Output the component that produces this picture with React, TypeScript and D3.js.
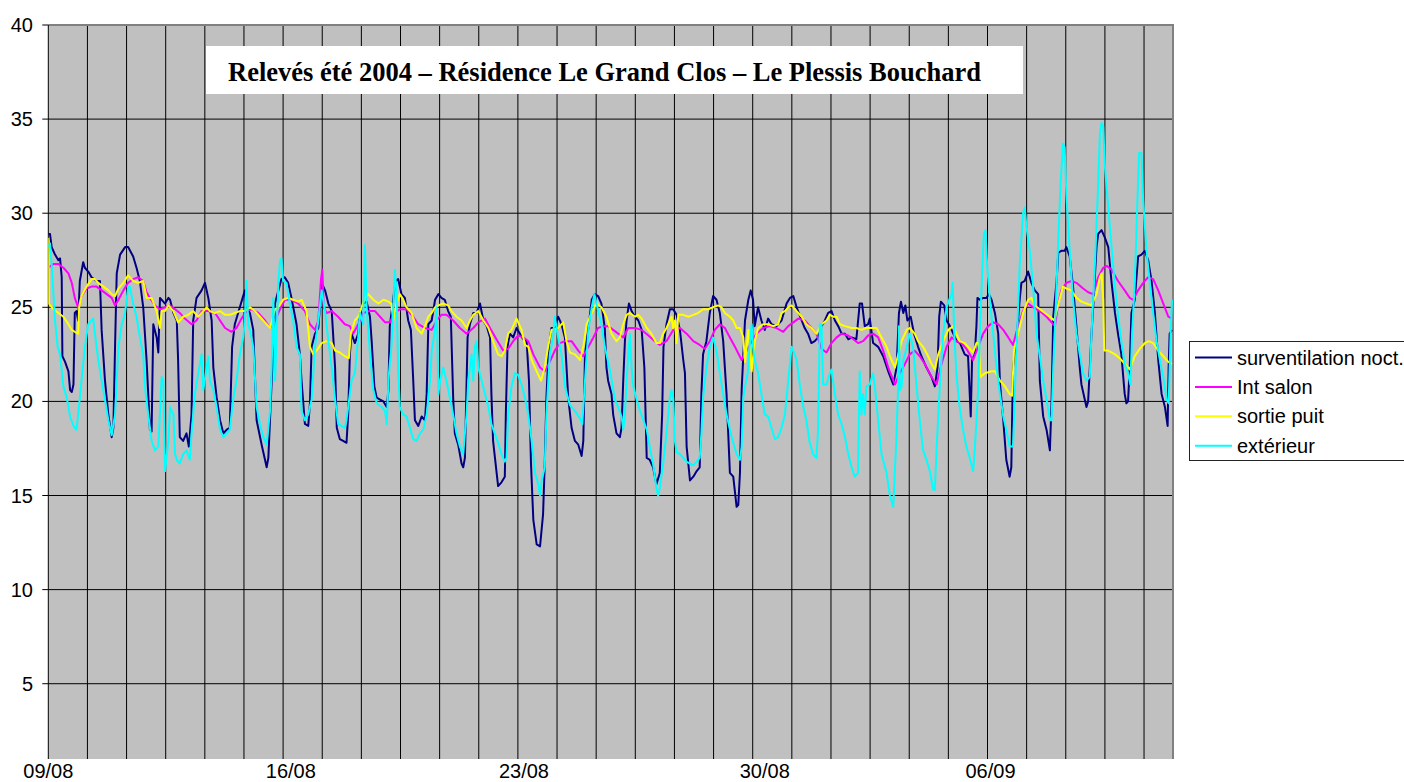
import { useEffect, useRef } from "react";
import * as d3 from "d3";

// x = days from 09/08 00:00 (position along the category axis), y = temperature °C
const surventilation: [number, number][] = [
  [0,28.9],[0.05,28.9],[0.1,28.2],[0.2,27.8],[0.3,27.5],[0.35,27.6],[0.4,26.6],[0.42,22.4],[0.5,22.1],[0.6,21.6],[0.65,20.6],[0.7,20.5],[0.75,20.9],[0.79,24.7],[0.84,24.8],[0.89,24.3],[0.94,26.4],[1.04,27.4],[1.09,27.1],[1.19,26.9],[1.29,26.6],[1.44,26.4],[1.54,26.4],[1.59,23.8],[1.69,21.1],[1.79,19.3],[1.89,18.1],[1.94,18.6],[1.99,22.9],[2.04,26.8],[2.14,27.8],[2.29,28.2],[2.38,28.2],[2.53,27.7],[2.63,27.1],[2.73,26.4],[2.83,25.0],[2.93,22.2],[3.03,18.5],[3.08,18.4],[3.13,24.1],[3.23,23.4],[3.28,22.6],[3.33,25.5],[3.48,25.2],[3.58,25.5],[3.63,25.4],[3.73,24.7],[3.83,24.3],[3.87,22.2],[3.92,18.1],[4.02,17.9],[4.12,18.3],[4.19,17.6],[4.27,19.3],[4.32,24.3],[4.42,25.5],[4.57,25.9],[4.67,26.3],[4.77,25.5],[4.87,24.3],[4.92,21.8],[5.02,20.2],[5.12,19.0],[5.22,18.3],[5.32,18.5],[5.41,18.6],[5.48,22.9],[5.56,24.1],[5.71,25.0],[5.86,25.9],[5.91,25.0],[6.01,24.7],[6.11,23.8],[6.21,19.0],[6.36,17.7],[6.51,16.5],[6.56,17.0],[6.66,21.1],[6.76,25.2],[6.86,25.9],[6.95,26.5],[7.05,26.6],[7.15,26.3],[7.25,25.5],[7.4,24.1],[7.5,22.5],[7.55,21.1],[7.65,18.8],[7.75,18.7],[7.8,19.9],[7.85,22.9],[7.95,23.6],[8.05,23.9],[8.15,26.3],[8.25,25.9],[8.35,25.2],[8.45,24.8],
  [8.55,21.8],[8.6,18.6],[8.69,18.0],[8.79,17.9],[8.89,17.8],[8.94,19.3],[8.99,22.5],[9.04,23.6],[9.14,23.1],[9.24,23.6],[9.29,24.7],[9.39,25.2],[9.49,25.3],[9.59,24.5],[9.64,23.2],[9.72,20.8],[9.79,20.2],[9.89,20.1],[9.99,20.0],[10.09,19.7],[10.14,20.6],[10.18,24.0],[10.28,25.4],[10.35,26.4],[10.43,26.5],[10.53,25.7],[10.63,25.5],[10.73,24.3],[10.81,23.8],[10.88,21.1],[10.93,19.0],[11.03,18.7],[11.13,19.2],[11.23,19.0],[11.28,20.4],[11.33,24.1],[11.43,24.3],[11.53,25.4],[11.63,25.7],[11.72,25.5],[11.82,25.4],[11.92,24.8],[12.0,24.5],[12.07,20.2],[12.12,18.3],[12.22,17.7],[12.32,16.7],[12.37,16.5],[12.42,17.0],[12.5,23.4],[12.57,24.1],[12.67,24.7],[12.77,24.7],[12.87,25.2],[12.97,24.3],[13.07,24.0],[13.17,23.4],[13.21,20.4],[13.26,17.9],[13.36,16.3],[13.41,15.5],[13.51,15.7],[13.61,16.0],[13.64,19.3],[13.69,22.9],[13.76,23.6],[13.86,23.4],[13.96,23.9],[14.06,23.6],[14.16,23.3],[14.26,23.2],[14.33,21.1],[14.39,16.7],[14.46,13.7],[14.56,12.4],[14.66,12.3],[14.75,14.0],[14.8,16.7],[14.85,20.2],[14.92,22.9],[15.0,23.9],[15.1,23.9],[15.2,24.5],[15.3,24.1],[15.4,23.4],[15.5,20.2],[15.6,18.6],[15.7,17.9],[15.8,17.7],[15.9,17.1],[15.95,17.9],[16.0,22.5],[16.1,23.9],[16.2,25.4],[16.29,25.7],[16.39,25.6],[16.49,25.2],[16.59,23.9],[16.64,21.8],[16.69,21.1],[16.79,20.4],
  [16.84,19.3],[16.94,18.3],[17.04,18.1],[17.09,18.6],[17.14,21.1],[17.19,23.2],[17.24,24.3],[17.31,25.2],[17.39,24.8],[17.49,24.5],[17.59,24.3],[17.69,23.8],[17.77,21.8],[17.84,17.0],[17.93,16.9],[18.03,16.5],[18.13,15.6],[18.23,16.2],[18.3,19.3],[18.34,22.9],[18.43,24.1],[18.53,24.9],[18.63,24.9],[18.73,24.6],[18.83,23.8],[18.93,22.2],[18.98,21.5],[19.03,17.6],[19.13,15.8],[19.23,16.0],[19.33,16.3],[19.42,16.5],[19.47,20.4],[19.52,22.5],[19.62,23.2],[19.72,24.7],[19.82,25.6],[19.92,25.4],[20.02,24.7],[20.12,23.2],[20.22,20.4],[20.32,16.2],[20.42,16.0],[20.52,14.4],[20.57,14.5],[20.62,16.2],[20.67,20.6],[20.77,24.3],[20.87,25.4],[20.94,25.9],[21.01,25.4],[21.06,24.0],[21.16,25.0],[21.26,24.3],[21.36,23.8],[21.46,24.4],[21.56,24.1],[21.71,24.0],[21.86,24.3],[22.01,25.2],[22.11,25.5],[22.21,25.6],[22.31,25.0],[22.46,24.3],[22.55,23.9],[22.65,23.6],[22.75,23.1],[22.85,23.2],[22.95,23.4],[23.05,24.0],[23.15,24.3],[23.25,24.7],[23.35,24.8],[23.45,24.3],[23.55,24.0],[23.65,23.6],[23.75,23.6],[23.85,23.3],[23.95,23.4],[24.09,23.3],[24.19,25.2],[24.26,25.2],[24.34,24.0],[24.44,24.1],[24.49,24.4],[24.59,23.1],[24.74,22.9],[24.89,22.4],[25.04,21.6],
  [25.19,20.9],[25.29,21.8],[25.36,24.7],[25.42,25.3],[25.49,24.7],[25.55,25.1],[25.61,24.3],[25.71,24.5],[25.81,23.6],[25.93,22.9],[26.03,22.4],[26.18,21.8],[26.33,21.3],[26.43,20.8],[26.51,21.8],[26.56,24.5],[26.61,25.3],[26.71,25.1],[26.78,24.3],[26.88,24.0],[26.98,23.6],[27.08,23.2],[27.18,23.1],[27.32,22.5],[27.42,22.4],[27.5,19.2],[27.54,22.2],[27.62,22.5],[27.67,24.0],[27.7,25.5],[27.77,25.4],[27.87,25.5],[27.97,25.5],[28.04,25.7],[28.12,25.4],[28.22,24.7],[28.32,23.6],[28.37,21.0],[28.47,19.0],[28.56,16.9],[28.66,16.0],[28.71,16.5],[28.76,21.8],[28.86,23.2],[28.96,25.4],[29.01,26.3],[29.11,26.4],[29.21,26.9],[29.31,26.3],[29.41,25.9],[29.51,25.7],[29.56,21.1],[29.66,19.2],[29.76,18.5],[29.86,17.4],[29.91,20.0],[29.96,24.5],[30.06,26.4],[30.11,27.9],[30.2,28.0],[30.3,28.0],[30.35,28.2],[30.45,27.7],[30.55,26.1],[30.65,24.0],[30.75,21.8],[30.8,20.9],[30.9,20.1],[30.95,19.7],[31.0,20.0],[31.1,23.6],[31.15,25.0],[31.25,28.2],[31.3,28.9],[31.4,29.1],[31.5,28.7],[31.6,28.2],[31.7,26.3],[31.8,24.7],[31.89,23.6],[31.99,22.5],[32.09,20.4],[32.14,19.9],[32.19,20.0],[32.24,21.8],[32.29,24.7],[32.39,25.4],[32.49,27.7],[32.59,27.8],[32.69,28.0],[32.79,27.5],[32.89,26.4],[32.99,24.7],[33.09,22.2],[33.19,20.4],[33.29,19.7],[33.37,18.7],[33.4,21.8],[33.43,23.6],[33.5,23.8],
];

const intSalon: [number, number][] = [
  [0,27.1],[0.15,27.3],[0.3,27.3],[0.45,27.1],[0.6,26.8],[0.7,26.3],[0.79,25.5],[0.89,25.0],[0.99,25.6],[1.14,26.0],[1.29,26.1],[1.44,26.1],[1.59,25.9],[1.74,25.7],[1.89,25.5],[1.99,25.1],[2.09,25.4],[2.24,25.9],[2.38,26.3],[2.53,26.5],[2.68,26.6],[2.83,26.4],[2.93,25.8],[3.03,25.5],[3.18,25.1],[3.33,24.9],[3.48,25.0],[3.63,25.1],[3.78,24.9],[3.92,24.7],[4.07,24.4],[4.27,24.1],[4.42,24.3],[4.57,24.8],[4.77,24.8],[4.97,24.7],[5.12,24.3],[5.27,23.9],[5.46,23.7],[5.61,23.9],[5.76,24.4],[5.91,24.8],[6.06,24.9],[6.26,24.7],[6.46,24.3],[6.61,23.9],[6.76,24.3],[6.91,24.9],[7.05,25.4],[7.25,25.4],[7.45,25.2],[7.65,24.8],[7.8,24.1],[7.95,23.8],[8.05,24.3],[8.13,26.5],[8.17,27.0],[8.21,25.0],[8.3,24.7],[8.45,24.8],
  [8.64,24.5],[8.84,24.1],[8.99,24.0],[9.09,23.6],[9.24,24.1],[9.39,24.7],[9.59,24.8],[9.74,24.8],[9.89,24.5],[10.04,24.2],[10.18,24.2],[10.33,24.7],[10.48,24.9],[10.68,24.9],[10.88,24.5],[11.03,24.1],[11.23,23.9],[11.43,23.8],[11.58,24.3],[11.72,24.6],[11.87,24.6],[12.07,24.3],[12.27,23.9],[12.47,23.6],[12.67,23.9],[12.82,24.2],[13.02,24.4],[13.17,23.9],[13.36,23.3],[13.56,22.7],[13.71,22.8],[13.86,23.2],[14.01,23.5],[14.16,23.4],[14.31,23.2],[14.46,22.5],[14.66,21.8],[14.8,21.6],[14.95,22.1],[15.1,22.7],[15.25,23.1],[15.4,23.2],[15.6,23.2],[15.8,22.7],[15.95,22.4],[16.1,22.9],[16.25,23.4],[16.39,23.9],[16.54,24.0],[16.69,24.0],
  [16.99,23.6],[17.14,23.4],[17.29,23.9],[17.49,23.9],[17.69,23.8],[17.89,23.5],[18.08,23.2],[18.23,23.0],[18.43,23.2],[18.63,23.8],[18.83,23.9],[19.03,23.6],[19.23,23.2],[19.42,23.0],[19.57,22.8],[19.72,23.2],[19.87,23.8],[20.02,24.1],[20.17,23.9],[20.32,23.4],[20.47,22.9],[20.67,22.2],[20.82,22.7],[20.97,23.2],[21.11,23.6],[21.31,23.9],[21.51,24.0],[21.71,23.9],[21.91,23.7],[22.06,24.0],[22.21,24.2],[22.36,24.4],[22.55,24.3],[22.75,23.9],[22.9,23.6],[23.05,22.8],[23.2,22.6],[23.35,23.1],[23.5,23.4],[23.65,23.6],[23.85,23.5],[24.0,23.3],[24.14,23.1],[24.29,23.2],[24.44,23.5],[24.59,23.6],[24.74,23.4],[24.89,22.7],[25.04,21.8],
  [25.24,20.9],[25.39,21.5],[25.54,22.0],[25.68,22.5],[25.83,22.7],[25.98,22.4],[26.13,22.0],[26.33,21.3],[26.48,20.9],[26.63,22.0],[26.78,22.9],[26.93,23.4],[27.07,23.2],[27.22,23.1],[27.37,22.8],[27.57,22.2],[27.72,22.9],[27.87,23.6],[28.02,24.0],[28.17,24.2],[28.32,24.1],[28.47,23.8],[28.62,23.4],[28.76,23.0],[28.91,24.0],[29.06,24.8],[29.21,25.2],[29.36,25.0],[29.56,24.8],[29.76,24.5],[29.91,24.2],[30.01,24.0],[30.11,25.2],[30.2,25.9],[30.35,26.3],[30.5,26.4],[30.65,26.3],[30.85,26.0],[31.0,25.8],[31.15,25.7],[31.3,26.6],[31.45,27.1],[31.55,27.2],[31.7,27.0],[31.89,26.4],[32.09,25.9],[32.24,25.5],[32.34,25.4],[32.49,25.9],[32.64,26.3],[32.79,26.6],[32.94,26.5],[33.09,25.9],[33.24,25.2],[33.39,24.5],[33.5,24.4],
];

const sortiePuit: [number, number][] = [
  [0,28.7],[0.02,25.2],[0.15,24.9],[0.3,24.7],[0.45,24.5],[0.6,24.1],[0.7,23.8],[0.79,23.7],[0.89,23.6],[0.92,25.0],[0.99,25.6],[1.14,26.1],[1.29,26.5],[1.39,26.5],[1.49,26.3],[1.64,26.1],[1.79,25.9],[1.89,25.7],[1.99,25.6],[2.09,26.0],[2.24,26.3],[2.38,26.7],[2.53,26.4],[2.68,26.3],[2.83,26.4],[2.93,25.5],[3.08,25.5],[3.23,24.8],[3.33,23.9],[3.38,24.8],[3.48,24.8],[3.58,25.1],[3.73,24.8],[3.87,24.2],[4.02,24.5],[4.17,24.6],[4.32,24.8],[4.47,24.5],[4.57,24.7],[4.72,25.0],[4.82,24.8],[4.97,24.7],[5.12,24.8],[5.27,24.6],[5.41,24.6],[5.56,24.7],[5.71,24.8],[5.86,24.8],[6.01,25.0],[6.16,24.8],[6.31,24.5],[6.46,24.2],[6.61,23.9],[6.76,24.9],[6.86,25.0],[7.0,25.4],[7.15,25.5],[7.3,25.4],[7.45,25.3],[7.55,25.4],[7.7,24.8],[7.8,22.9],[7.9,22.5],[8.0,22.7],[8.15,23.1],[8.3,23.2],[8.45,23.1],
  [8.55,22.7],[8.69,22.6],[8.84,22.4],[8.96,22.3],[9.02,23.6],[9.14,24.3],[9.24,24.5],[9.34,25.0],[9.44,25.5],[9.54,25.7],[9.69,25.4],[9.84,25.2],[9.99,25.4],[10.14,25.3],[10.23,25.2],[10.28,24.3],[10.38,25.2],[10.48,25.7],[10.58,25.4],[10.68,25.0],[10.83,24.7],[10.98,23.9],[11.13,23.6],[11.23,24.0],[11.33,24.5],[11.43,24.7],[11.53,25.0],[11.63,25.1],[11.77,25.2],[11.92,25.1],[12.02,24.8],[12.17,24.5],[12.32,24.3],[12.47,23.9],[12.57,24.3],[12.67,24.6],[12.82,24.8],[12.97,24.3],[13.12,23.9],[13.26,23.2],[13.41,22.5],[13.51,22.4],[13.61,22.7],[13.71,23.6],[13.81,23.8],[13.96,24.4],[14.11,23.8],[14.21,23.0],[14.31,22.9],[14.41,22.2],[14.56,21.6],[14.69,21.1],[14.8,21.8],[14.9,22.9],[15.0,23.8],[15.2,23.9],[15.35,24.2],[15.45,23.2],[15.55,22.6],[15.7,22.5],[15.85,22.2],[15.95,22.9],[16.05,24.1],[16.2,24.7],[16.34,25.2],[16.49,25.0],[16.64,24.5],
  [16.79,23.6],[16.94,23.2],[17.04,23.4],[17.14,24.1],[17.24,24.6],[17.34,24.7],[17.49,24.5],[17.59,24.6],[17.69,24.4],[17.84,23.9],[17.98,23.6],[18.13,23.1],[18.23,23.1],[18.33,23.6],[18.43,23.9],[18.53,24.3],[18.58,24.5],[18.63,23.9],[18.68,24.3],[18.73,23.1],[18.78,24.6],[18.93,24.6],[19.08,24.5],[19.23,24.6],[19.37,24.7],[19.52,24.9],[19.67,24.9],[19.82,25.0],[19.97,25.1],[20.07,25.0],[20.17,24.7],[20.32,24.5],[20.42,24.3],[20.52,23.9],[20.62,23.9],[20.72,23.4],[20.77,22.1],[20.87,23.8],[20.97,21.6],[21.06,23.2],[21.16,23.9],[21.31,24.1],[21.46,24.1],[21.61,24.0],[21.76,24.1],[21.86,24.7],[21.96,24.8],[22.06,25.0],[22.16,25.1],[22.31,24.8],[22.46,24.5],[22.6,24.1],[22.75,23.9],[22.9,23.6],[23.05,24.1],[23.2,24.3],[23.3,24.6],[23.4,24.5],[23.5,24.5],[23.6,24.1],[23.75,24.0],[23.95,23.9],[24.09,23.9],[24.24,23.8],[24.39,23.9],[24.54,23.9],[24.69,23.9],[24.84,23.4],[24.99,22.9],
  [25.09,22.4],[25.24,21.8],[25.34,22.5],[25.44,23.2],[25.59,23.8],[25.68,23.9],[25.83,23.6],[25.93,23.2],[26.08,22.9],[26.23,22.4],[26.33,22.0],[26.43,21.7],[26.53,22.5],[26.68,23.2],[26.83,23.8],[26.98,24.0],[27.07,23.6],[27.17,23.2],[27.32,23.1],[27.47,22.8],[27.57,22.6],[27.67,23.1],[27.74,23.1],[27.79,21.3],[27.92,21.5],[28.12,21.6],[28.22,21.6],[28.37,21.1],[28.52,20.8],[28.66,20.4],[28.73,20.3],[28.79,22.7],[28.91,23.6],[29.06,24.7],[29.21,25.4],[29.31,25.5],[29.41,25.1],[29.56,24.9],[29.71,24.7],[29.86,24.5],[29.99,24.3],[30.06,24.8],[30.16,25.5],[30.25,26.1],[30.35,26.0],[30.5,25.9],[30.65,25.5],[30.8,25.3],[30.95,25.2],[31.1,25.1],[31.25,25.7],[31.35,26.6],[31.4,26.8],[31.45,25.4],[31.48,22.7],[31.6,22.7],[31.8,22.5],[31.94,22.3],[32.09,22.0],[32.24,21.7],[32.39,22.4],[32.54,22.8],[32.69,23.1],[32.81,23.2],[32.94,23.1],[33.09,22.7],[33.24,22.4],[33.39,22.1],[33.5,22.0],
];

const exterieur: [number, number][] = [
  [0,28.2],[0.05,28.4],[0.1,27.3],[0.2,24.3],[0.28,22.9],[0.35,22.5],[0.45,20.8],[0.55,20.2],[0.65,19.2],[0.75,18.7],[0.84,18.5],[0.89,19.3],[0.99,21.1],[1.09,22.9],[1.19,24.1],[1.34,24.4],[1.39,23.6],[1.49,22.2],[1.59,21.1],[1.69,20.1],[1.79,19.0],[1.89,18.2],[1.99,19.3],[2.09,22.9],[2.19,24.1],[2.29,24.7],[2.38,26.1],[2.43,26.1],[2.53,25.2],[2.63,24.5],[2.73,23.4],[2.83,22.5],[2.88,20.8],[2.98,19.3],[3.08,17.9],[3.18,17.4],[3.28,17.6],[3.38,21.3],[3.43,21.1],[3.48,16.3],[3.58,17.9],[3.63,19.7],[3.73,19.3],[3.78,17.2],[3.83,16.9],[3.92,16.7],[4.02,17.2],[4.12,17.4],[4.22,16.9],[4.27,18.3],[4.37,20.4],[4.47,21.5],[4.57,22.5],[4.62,20.6],[4.72,21.8],[4.77,22.4],[4.82,21.1],[4.92,20.6],[5.02,19.7],[5.12,18.5],[5.22,18.1],[5.32,18.3],[5.41,18.5],[5.51,20.1],[5.61,21.1],[5.71,22.5],[5.81,23.4],[5.86,24.3],[5.91,26.4],[5.96,24.1],[6.01,23.8],[6.11,22.9],[6.21,19.7],[6.31,18.8],[6.41,18.1],[6.51,17.7],[6.61,19.5],[6.66,21.8],[6.71,25.5],[6.76,21.1],[6.81,23.6],[6.86,26.4],[6.91,27.5],[6.95,27.6],[7.0,26.4],[7.1,26.3],[7.2,25.2],[7.3,24.3],[7.4,22.9],[7.5,22.5],[7.55,19.5],[7.65,19.0],[7.75,19.3],[7.85,20.1],[7.95,22.9],[8.05,24.3],[8.15,25.9],[8.25,24.8],[8.35,23.2],[8.45,21.8],
  [8.55,20.1],[8.64,18.8],[8.74,18.7],[8.84,18.6],[8.89,19.0],[8.99,20.4],[9.04,21.1],[9.14,21.5],[9.24,23.4],[9.29,24.7],[9.39,24.1],[9.44,28.3],[9.49,25.0],[9.59,22.5],[9.69,20.6],[9.79,19.9],[9.94,19.7],[10.04,19.5],[10.09,18.8],[10.14,21.1],[10.18,22.0],[10.23,22.9],[10.28,24.8],[10.33,27.0],[10.38,25.9],[10.43,21.8],[10.48,19.7],[10.58,19.3],[10.68,19.2],[10.78,18.6],[10.88,18.0],[10.98,17.9],[11.08,18.3],[11.18,18.5],[11.28,19.3],[11.38,21.1],[11.43,22.7],[11.53,23.8],[11.58,25.0],[11.63,20.4],[11.68,21.1],[11.77,21.8],[11.87,21.1],[11.97,20.2],[12.07,19.3],[12.17,18.3],[12.27,17.6],[12.37,17.2],[12.42,18.3],[12.47,19.3],[12.52,21.1],[12.62,22.5],[12.67,21.1],[12.72,22.9],[12.77,23.2],[12.82,21.8],[12.92,21.1],[13.02,20.4],[13.12,19.7],[13.21,18.8],[13.31,18.3],[13.41,17.8],[13.51,17.2],[13.61,16.8],[13.66,17.0],[13.71,19.3],[13.81,20.8],[13.91,21.5],[14.01,21.4],[14.11,20.9],[14.21,20.2],[14.31,19.3],[14.41,17.9],[14.51,16.2],[14.61,15.6],[14.66,15.0],[14.71,15.8],[14.8,16.5],[14.85,19.3],[14.95,22.5],[15.05,23.4],[15.1,24.5],[15.2,23.4],[15.3,22.5],[15.4,20.8],[15.55,19.8],[15.7,19.5],[15.85,19.1],[15.92,18.8],[16.0,21.1],[16.1,23.8],[16.2,25.0],[16.28,25.7],[16.34,25.2],[16.49,24.1],[16.59,22.9],[16.74,21.7],
  [16.89,20.1],[16.99,19.7],[17.09,19.2],[17.14,18.5],[17.19,19.3],[17.24,21.1],[17.29,22.5],[17.34,23.6],[17.39,21.8],[17.44,20.8],[17.54,20.1],[17.64,19.5],[17.74,19.0],[17.84,18.5],[17.93,17.6],[18.03,16.7],[18.13,15.4],[18.18,15.0],[18.23,15.4],[18.33,16.7],[18.43,18.3],[18.53,20.2],[18.58,20.6],[18.63,20.2],[18.68,17.9],[18.73,17.3],[18.83,17.2],[18.93,17.0],[19.03,16.8],[19.13,16.7],[19.23,16.6],[19.33,16.8],[19.42,17.0],[19.47,18.3],[19.52,20.2],[19.62,21.8],[19.72,22.9],[19.82,23.4],[19.92,22.7],[20.02,21.5],[20.12,20.4],[20.22,19.3],[20.32,18.5],[20.42,17.8],[20.52,17.2],[20.62,16.9],[20.67,17.6],[20.72,20.2],[20.77,20.8],[20.85,21.5],[20.92,23.2],[20.97,24.1],[21.01,22.9],[21.06,22.2],[21.16,21.5],[21.26,20.4],[21.36,19.3],[21.46,19.2],[21.56,18.6],[21.66,18.0],[21.76,18.1],[21.86,18.6],[21.96,19.3],[22.06,21.1],[22.16,22.9],[22.21,22.7],[22.31,22.2],[22.41,20.8],[22.51,19.7],[22.6,19.0],[22.7,17.8],[22.8,17.2],[22.9,17.0],[22.95,18.5],[23.0,24.1],[23.05,24.1],[23.1,20.9],[23.2,20.9],[23.3,21.5],[23.35,21.7],[23.45,20.4],[23.55,19.3],[23.65,18.8],[23.75,18.1],[23.85,17.2],[23.95,16.5],[24.04,16.0],[24.14,16.2],[24.19,21.6],[24.24,19.3],[24.29,20.4],[24.34,19.3],[24.39,20.8],[24.49,20.9],[24.59,21.5],[24.64,20.8],[24.74,19.0],[24.84,17.2],[24.99,16.2],[25.09,15.0],[25.19,14.4],
  [25.29,18.3],[25.34,21.0],[25.36,24.0],[25.39,20.6],[25.44,20.8],[25.49,22.2],[25.54,22.5],[25.59,22.9],[25.68,23.6],[25.78,22.9],[25.88,20.9],[25.98,19.0],[26.08,17.4],[26.18,16.9],[26.28,16.3],[26.38,15.3],[26.43,15.3],[26.48,17.4],[26.58,20.9],[26.68,23.6],[26.78,25.0],[26.88,25.5],[26.93,25.7],[26.96,26.3],[27.01,23.6],[27.07,21.5],[27.17,19.7],[27.27,18.5],[27.37,17.6],[27.47,17.0],[27.57,16.3],[27.62,17.4],[27.72,20.6],[27.77,23.6],[27.84,26.8],[27.89,28.9],[27.94,29.1],[27.99,27.2],[28.07,25.4],[28.17,23.6],[28.27,21.8],[28.37,20.4],[28.47,19.2],[28.56,18.5],[28.66,17.6],[28.76,17.6],[28.81,20.1],[28.86,22.7],[28.96,27.2],[29.06,30.0],[29.11,30.3],[29.16,29.3],[29.26,28.0],[29.36,26.1],[29.46,23.6],[29.56,22.4],[29.66,21.1],[29.76,20.1],[29.86,19.0],[29.91,19.0],[29.96,21.8],[30.03,24.8],[30.11,28.6],[30.18,31.6],[30.25,33.7],[30.3,33.5],[30.35,31.0],[30.45,28.0],[30.55,25.4],[30.65,23.6],[30.75,22.5],[30.85,21.5],[30.95,21.1],[31.05,21.3],[31.1,23.6],[31.15,25.4],[31.22,28.0],[31.3,31.6],[31.35,34.2],[31.4,34.8],[31.45,34.6],[31.5,32.5],[31.6,30.3],[31.7,28.2],[31.8,26.1],[31.89,24.6],[31.99,23.2],[32.09,22.0],[32.19,21.5],[32.26,20.9],[32.31,23.6],[32.39,26.3],[32.47,30.7],[32.52,33.2],[32.59,33.2],[32.64,30.7],[32.74,28.0],[32.84,26.3],[32.94,24.7],[33.04,23.2],[33.14,22.2],[33.24,21.3],[33.34,20.1],[33.4,19.9],[33.46,23.6],[33.5,25.4],
];

const seriesNames = ["surventilation noct.", "Int salon", "sortie puit", "extérieur"];
const seriesColors = ["#000080", "#FF00FF", "#FFFF00", "#00FFFF"];
const yTicks = [5, 10, 15, 20, 25, 30, 35, 40];
const xTickLabels = ["09/08", "16/08", "23/08", "30/08", "06/09"];
const xTickDays = [0, 7.23, 14.18, 21.36, 28.09];
const title = "Relevés été 2004 – Résidence Le Grand Clos – Le Plessis Bouchard";

function App() {
  const svgRef = useRef<SVGSVGElement | null>(null);

  useEffect(() => {
    const svg: any = d3.select(svgRef.current);
    svg.selectAll("*").remove();

    const left = 48.3, right = 1173, top = 25, bottom = 759;
    const x = d3.scaleLinear().domain([0, 33.53]).range([left, right]);
    const y = d3.scaleLinear().domain([1, 40]).range([bottom, top]);
    const sans = "'Liberation Sans', Arial, sans-serif";

    svg.append("rect")
      .attr("x", left).attr("y", top)
      .attr("width", right - left).attr("height", bottom - top)
      .attr("fill", "#C0C0C0");

    // vertical gridlines, one every 7/6 day
    const gridDays = d3.range(1, 29).map((i) => (i * 7) / 6);
    svg.append("g").selectAll("line").data(gridDays).enter()
      .append("line")
      .attr("x1", (d: number) => x(d)).attr("x2", (d: number) => x(d))
      .attr("y1", top).attr("y2", bottom)
      .attr("stroke", "#000").attr("stroke-width", 1);

    svg.append("g").selectAll("line").data(yTicks.filter((t) => t < 40)).enter()
      .append("line")
      .attr("x1", left).attr("x2", right)
      .attr("y1", (d: number) => y(d)).attr("y2", (d: number) => y(d))
      .attr("stroke", "#000").attr("stroke-width", 1);

    // frame: grey top/right, black value axis on the left
    svg.append("line").attr("x1", left).attr("x2", right + 1)
      .attr("y1", y(40)).attr("y2", y(40))
      .attr("stroke", "#808080").attr("stroke-width", 2);
    svg.append("line").attr("x1", right).attr("x2", right)
      .attr("y1", top).attr("y2", bottom)
      .attr("stroke", "#808080").attr("stroke-width", 2);
    svg.append("line").attr("x1", left).attr("x2", left)
      .attr("y1", top).attr("y2", bottom)
      .attr("stroke", "#000").attr("stroke-width", 1);

    const yAxis = svg.append("g");
    yAxis.selectAll("line").data(yTicks).enter()
      .append("line")
      .attr("x1", left - 6).attr("x2", left)
      .attr("y1", (d: number) => y(d)).attr("y2", (d: number) => y(d))
      .attr("stroke", "#000");
    yAxis.selectAll("text").data(yTicks).enter()
      .append("text")
      .attr("x", 33).attr("y", (d: number) => y(d))
      .attr("dy", "0.35em")
      .attr("text-anchor", "end")
      .style("font-family", sans).style("font-size", "20px")
      .text((d: number) => d);

    svg.append("g").selectAll("text").data(xTickDays).enter()
      .append("text")
      .attr("x", (d: number) => x(d)).attr("y", 778)
      .attr("text-anchor", "middle")
      .style("font-family", sans).style("font-size", "20px")
      .text((_: number, i: number) => xTickLabels[i]);

    svg.append("clipPath").attr("id", "plot-clip")
      .append("rect")
      .attr("x", left).attr("y", top)
      .attr("width", right - left).attr("height", bottom - top);

    const line: any = d3.line<[number, number]>()
      .x((d) => x(d[0]))
      .y((d) => y(d[1]));

    const allSeries = [surventilation, intSalon, sortiePuit, exterieur];
    svg.append("g").attr("clip-path", "url(#plot-clip)")
      .selectAll("path").data(allSeries).enter()
      .append("path")
      .attr("d", line)
      .attr("fill", "none")
      .attr("stroke", (_: any, i: number) => seriesColors[i])
      .attr("stroke-width", 2)
      .attr("stroke-linejoin", "round");

    // title box
    svg.append("rect")
      .attr("x", 206).attr("y", 46)
      .attr("width", 817).attr("height", 48)
      .attr("fill", "#fff");
    svg.append("text")
      .attr("x", 228).attr("y", 81)
      .style("font-family", "'Liberation Serif', 'Times New Roman', serif")
      .style("font-size", "26.5px").style("font-weight", "bold")
      .text(title);

    // legend
    const legend = svg.append("g");
    legend.append("rect")
      .attr("x", 1189.5).attr("y", 341.5)
      .attr("width", 230).attr("height", 119)
      .attr("fill", "#fff").attr("stroke", "#222").attr("stroke-width", 1);
    const rows = legend.selectAll("g.row").data(seriesNames).enter()
      .append("g")
      .attr("transform", (_: any, i: number) => `translate(0, ${357.5 + i * 29.4})`);
    rows.append("line")
      .attr("x1", 1195).attr("x2", 1232)
      .attr("stroke", (_: any, i: number) => seriesColors[i])
      .attr("stroke-width", 2);
    rows.append("text")
      .attr("x", 1237).attr("dy", "0.35em")
      .style("font-family", sans).style("font-size", "20px")
      .text((d: string) => d);
  }, []);

  return (
    <div style={{ position: "absolute", left: 0, top: 0 }}>
      <svg ref={svgRef} width={1404} height={782} style={{ display: "block", background: "#fff" }}></svg>
    </div>
  );
}

export default App;
